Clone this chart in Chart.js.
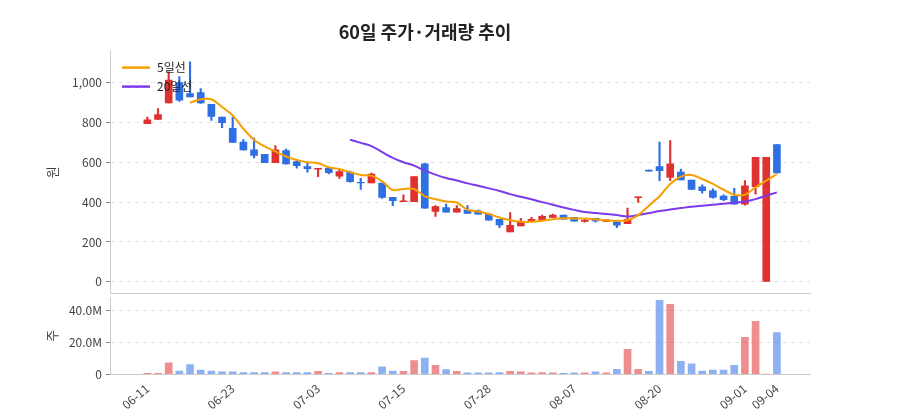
<!DOCTYPE html>
<html><head><meta charset="utf-8">
<script src="https://cdn.jsdelivr.net/npm/chart.js@4.4.1/dist/chart.umd.min.js"></script>
<style>html,body{margin:0;padding:0;background:#fff;width:900px;height:420px;overflow:hidden;position:relative}
canvas{display:block;position:absolute;left:0}</style></head><body>
<canvas id="p" width="900" height="305" style="top:0"></canvas>
<canvas id="v" width="900" height="134" style="top:286px"></canvas>
<script>
const dates=['06-11','06-12','06-13','06-16','06-17','06-18','06-19','06-20','06-23','06-24','06-25','06-26','06-27','06-30','07-01','07-02','07-03','07-04','07-07','07-08','07-09','07-10','07-11','07-14','07-15','07-16','07-17','07-21','07-22','07-23','07-24','07-25','07-28','07-29','07-30','07-31','08-01','08-04','08-05','08-06','08-07','08-08','08-11','08-12','08-13','08-14','08-18','08-19','08-20','08-21','08-22','08-25','08-26','08-27','08-28','08-29','09-01','09-02','09-03','09-04'];
const openP=[793,815,898,1000,945,950,891,827,770,701,662,640,598,659,603,578,565,571,530,550,499,496,496,424,402,402,592,353,373,350,360,356,340,314,250,281,303,311,323,335,323,303,318,303,301,292,422,561,578,524,550,511,477,457,430,429,390,477,0,688];
const highP=[827,869,1054,1030,1104,970,891,827,827,714,721,640,684,666,615,595,570,571,563,555,519,546,496,424,437,528,595,382,390,382,382,360,340,314,348,318,323,335,340,335,323,316,318,311,301,370,427,561,701,709,566,511,487,467,437,469,508,625,625,688];
const lowP=[793,815,898,905,928,895,810,773,699,660,622,598,598,590,570,550,528,541,519,500,464,496,419,382,402,402,370,328,350,350,343,340,309,272,250,281,303,311,323,314,304,299,299,303,272,292,398,555,508,508,511,464,445,420,407,390,385,440,0,546];
const closeP=[813,839,1012,911,928,898,830,798,699,662,634,598,662,592,583,568,570,548,553,503,496,541,424,407,407,528,370,377,350,368,343,340,309,286,284,303,314,328,335,314,304,309,306,311,284,314,427,555,558,592,511,464,457,424,412,390,482,625,625,546];
const ma5=[null,null,null,null,899,916,916,877,835,768,713,679,654,629,612,600,595,575,566,550,536,533,504,461,466,466,429,415,403,398,361,353,340,323,309,301,301,306,314,319,318,318,313,309,306,309,335,382,429,491,528,536,516,491,462,437,437,474,508,541];
const ma20=[null,null,null,null,null,null,null,null,null,null,null,null,null,null,null,null,null,null,null,713,697,681,651,622,600,583,558,538,521,508,494,482,469,456,440,427,414,400,387,373,361,350,345,340,335,328,335,345,355,363,370,377,382,387,392,397,403,415,432,449];
const volM=[0.5,0.5,7,2,6,2.5,2,1.5,1.5,1,1,1,1.5,1,1,1,1.8,0.5,1,1,1,1,4.5,2,1.8,8.5,10,5.5,2.8,1.8,0.8,0.8,0.8,1,1.8,1.5,0.8,1,0.8,0.5,0.8,0.8,1.5,0.8,3,15.5,3,1.8,46,43.5,8,6.5,2,2.5,2.5,5.5,23,33,0,26];
const priceTicks=[0,200,400,600,800,1000];
const volTicks=[0,20,40];
const dateTickIdx=[0,8,16,24,32,40,48,56,59];

const RED='#e03131',BLUE='#2f6fe4',RED_L='rgba(224,49,49,0.55)',BLUE_L='rgba(47,111,228,0.55)';
const up=closeP.map((c,i)=>c>=openP[i]);
const font="'Noto Sans CJK KR','Noto Sans',sans-serif";
Chart.defaults.font.family=font;
Chart.defaults.color='#444';
const PADL=40,AXW=70,PADR=90,XMIN=-3.5,XMAX=62.1;
const fixW=s=>{s.width=AXW;};
const xy=(arr)=>arr.map((v,i)=>({x:i,y:v}));

const legendPlugin={id:'lg',afterDraw(c){
  const ctx=c.ctx,a=c.chartArea;ctx.save();
  [['5일선','#f59f00'],['20일선','#7c3aed']].forEach((it,k)=>{
    const y=a.top+17+k*19;
    ctx.strokeStyle=it[1];ctx.lineWidth=2.5;ctx.beginPath();ctx.moveTo(a.left+12,y);ctx.lineTo(a.left+40,y);ctx.stroke();
    ctx.fillStyle='#222';ctx.font="12px "+font;ctx.textBaseline='middle';ctx.fillText(it[0],a.left+47,y);
  });ctx.restore();}};

const xBase={type:'linear',offset:false,min:XMIN,max:XMAX,afterBuildTicks:s=>{s.ticks=dateTickIdx.map(v=>({value:v}));}};

new Chart(document.getElementById('p'),{
  data:{datasets:[
    {type:'line',label:'5일선',data:xy(ma5),borderColor:'#f59f00',borderWidth:2,pointRadius:0,tension:0.3,order:0},
    {type:'line',label:'20일선',data:xy(ma20),borderColor:'#7c3aed',borderWidth:2,pointRadius:0,tension:0.3,order:0},
    {type:'bar',label:'body',data:openP.map((o,i)=>{const a=Math.min(o,closeP[i]),b=Math.max(o,closeP[i]);return {x:i,y:[a,b===a?b+4:b]};}),backgroundColor:up.map(u=>u?RED:BLUE),barThickness:7,grouped:false,order:1,borderSkipped:false},
    {type:'bar',label:'wick',data:lowP.map((l,i)=>({x:i,y:[l,highP[i]]})),backgroundColor:up.map(u=>u?RED:BLUE),barThickness:1.5,grouped:false,order:2}
  ]},
  options:{responsive:false,animation:false,
    layout:{padding:{left:PADL,right:PADR,top:0,bottom:0}},
    plugins:{legend:{display:false},tooltip:{enabled:false},
      title:{display:true,text:'60일 주가·거래량 추이',font:{size:18,weight:'bold'},color:'#222',padding:{top:21,bottom:8}}},
    scales:{
      x:Object.assign({},xBase,{grid:{display:false,drawTicks:true,tickLength:5,tickColor:'#888'},border:{color:'#ccc'},ticks:{display:false}}),
      y:{min:-60,max:1160,afterFit:fixW,afterBuildTicks:s=>{s.ticks=priceTicks.map(v=>({value:v}));},
        grid:{color:'#e3e3e3',drawTicks:true,tickLength:4,tickColor:'#888'},border:{color:'#ccc',dash:[4,4]},
        ticks:{padding:4,font:{size:12},callback:v=>v.toLocaleString('en-US')},
        title:{display:true,text:'원',font:{size:13}}}
    }},
  plugins:[legendPlugin]
});

new Chart(document.getElementById('v'),{
  type:'bar',
  data:{datasets:[{data:xy(volM.map(v=>v*1e6)),backgroundColor:up.map(u=>u?RED_L:BLUE_L),barThickness:7}]},
  options:{responsive:false,animation:false,
    layout:{padding:{left:PADL,right:PADR,top:0,bottom:5}},
    plugins:{legend:{display:false},tooltip:{enabled:false}},
    scales:{
      x:Object.assign({},xBase,{grid:{display:false,drawTicks:true,tickLength:4,tickColor:'#888'},border:{color:'#ccc'},
        ticks:{autoSkip:false,maxRotation:40,minRotation:40,font:{size:12},callback:v=>dates[v]}}),
      y:{min:0,max:48e6,afterFit:fixW,afterBuildTicks:s=>{s.ticks=volTicks.map(v=>({value:v*1e6}));},
        grid:{color:'#e3e3e3',drawTicks:true,tickLength:4,tickColor:'#888'},border:{color:'#ccc',dash:[4,4]},
        ticks:{padding:4,font:{size:12},callback:v=>v===0?'0':(v/1e6).toFixed(1)+'M'},
        title:{display:true,text:'주',font:{size:13}}}
    }}
});
</script></body></html>
